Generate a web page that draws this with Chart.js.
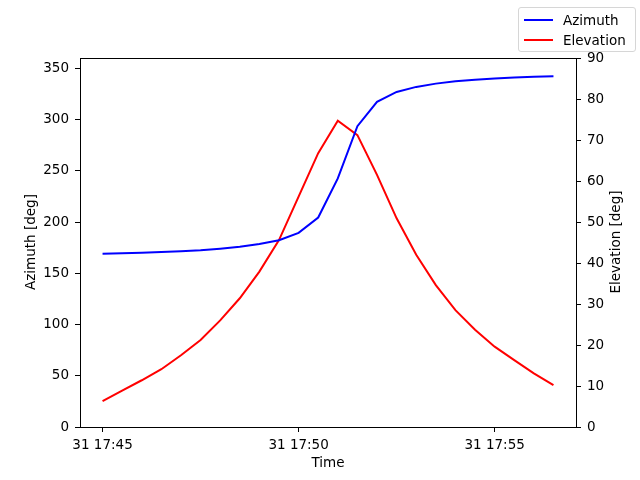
<!DOCTYPE html>
<html>
<head>
<meta charset="utf-8">
<script src="https://cdn.jsdelivr.net/npm/chart.js@4/dist/chart.umd.min.js"></script>
<style>
  html, body { margin: 0; padding: 0; background: #fff; }
  #wrap { position: relative; width: 640px; height: 480px; font-family: "DejaVu Sans", sans-serif; color: #000; }
  #legend {
    position: absolute; left: 518px; top: 7px; width: 116px; height: 43px;
    border: 1px solid #d6d6d6; border-radius: 3px; background: rgba(255,255,255,0.8);
    font-size: 13.5px;
  }
  .item { position: absolute; left: 0; height: 20px; line-height: 20px; white-space: nowrap; }
  .swatch { position: absolute; left: 5px; top: 9px; width: 29px; height: 2px; }
  .lbl { position: absolute; left: 44px; top: 0; }
  .atitle { position: absolute; font-size: 13.5px; white-space: nowrap; line-height: 16px; height: 16px; }
  .rot { width: 200px; text-align: center; transform: rotate(-90deg); transform-origin: 50% 50%; }
</style>
</head>
<body>
<div id="wrap">
  <canvas id="c" width="640" height="480"></canvas>
  <div id="legend">
    <div class="item" style="top:2px"><div class="swatch" style="background:#0000ff"></div><span class="lbl">Azimuth</span></div>
    <div class="item" style="top:22px"><div class="swatch" style="background:#ff0000"></div><span class="lbl">Elevation</span></div>
  </div>
  <div class="atitle rot" style="left:-70px; top:234px;">Azimuth [deg]</div>
  <div class="atitle rot" style="left:515px; top:234px;">Elevation [deg]</div>
  <div class="atitle" style="left:228px; width:200px; text-align:center; top:454px;">Time</div>
</div>
<script>
const times = ['17:45:00','17:45:30','17:46:00','17:46:30','17:47:00','17:47:30','17:48:00','17:48:30',
               '17:49:00','17:49:30','17:50:00','17:50:30','17:51:00','17:51:30','17:52:00','17:52:30',
               '17:53:00','17:53:30','17:54:00','17:54:30','17:55:00','17:55:30','17:56:00','17:56:30'];
const azimuth = [169.0,169.5,170.1,170.7,171.5,172.5,174.0,175.9,178.5,182.2,189.4,204.4,
                 242.5,293.5,317.2,326.9,331.8,335.0,337.3,338.8,340.0,341.0,341.6,342.2];
const elevation = [6.3,8.9,11.4,14.1,17.5,21.2,26.0,31.4,37.9,45.6,56.2,66.8,
                   74.7,71.2,61.5,50.9,42.0,34.6,28.5,23.7,19.6,16.3,13.1,10.2];
const xTickLabels = ['17:45','17:50','17:55'];
const azTicks = [0,50,100,150,200,250,300,350];
const elTicks = [0,10,20,30,40,50,60,70,80,90];
const dayLabel = '31';

function toMin(t) { const p = t.split(':').map(Number); return p[0]*60 + p[1] + (p[2]||0)/60; }
const xs = times.map(toMin);
const xTicks = xTickLabels.map(toMin);
const span = xs[xs.length-1] - xs[0];
const xMin = xs[0] - 0.05*span, xMax = xs[xs.length-1] + 0.05*span;
function fmt(m) { const h = Math.floor(m/60), mm = Math.round(m - h*60); return dayLabel + ' ' + h + ':' + String(mm).padStart(2,'0'); }

const FONT = { family: 'DejaVu Sans', size: 13.5 };

const frame = {
  id: 'frame',
  afterDatasetsDraw(chart) {
    const a = chart.chartArea, ctx = chart.ctx;
    const y = Math.round(a.top) + 0.5;
    ctx.save(); ctx.strokeStyle = '#000'; ctx.lineWidth = 1;
    ctx.beginPath();
    ctx.moveTo(Math.round(a.left), y); ctx.lineTo(Math.round(a.right) + 1, y);
    ctx.stroke();
    ctx.restore();
  }
};

new Chart(document.getElementById('c'), {
  type: 'line',
  data: {
    datasets: [
      { label: 'Azimuth', data: xs.map((x,i)=>({x, y: azimuth[i]})), borderColor: '#0000ff', backgroundColor: '#0000ff',
        borderWidth: 2, pointRadius: 0, tension: 0, yAxisID: 'y' },
      { label: 'Elevation', data: xs.map((x,i)=>({x, y: elevation[i]})), borderColor: '#ff0000', backgroundColor: '#ff0000',
        borderWidth: 2, pointRadius: 0, tension: 0, yAxisID: 'y1' }
    ]
  },
  options: {
    responsive: false, animation: false, devicePixelRatio: 1,
    layout: { padding: { top: 58, left: 0, right: 0, bottom: 0 } },
    plugins: { legend: { display: false }, tooltip: { enabled: false } },
    scales: {
      x: {
        type: 'linear', min: xMin, max: xMax,
        afterBuildTicks: s => { s.ticks = xTicks.map(v => ({ value: v })); },
        afterFit: s => { s.height = 53; },
        grid: { drawOnChartArea: false, color: '#000', tickLength: 5, tickWidth: 1 },
        border: { color: '#000' },
        ticks: { color: '#000', font: FONT, padding: 5, maxRotation: 0, autoSkip: false, callback: v => fmt(v) }
      },
      y: {
        position: 'left', min: 0, max: 360,
        afterBuildTicks: s => { s.ticks = azTicks.map(v => ({ value: v })); },
        afterFit: s => { s.width = 80; },
        grid: { drawOnChartArea: false, color: '#000', tickLength: 5 },
        border: { color: '#000' },
        ticks: { color: '#000', font: FONT, padding: 6 }
      },
      y1: {
        position: 'right', min: 0, max: 90,
        afterBuildTicks: s => { s.ticks = elTicks.map(v => ({ value: v })); },
        afterFit: s => { s.width = 64; },
        grid: { drawOnChartArea: false, color: '#000', tickLength: 5 },
        border: { color: '#000' },
        ticks: { color: '#000', font: FONT, padding: 6 }
      }
    }
  },
  plugins: [frame]
});
</script>
</body>
</html>
